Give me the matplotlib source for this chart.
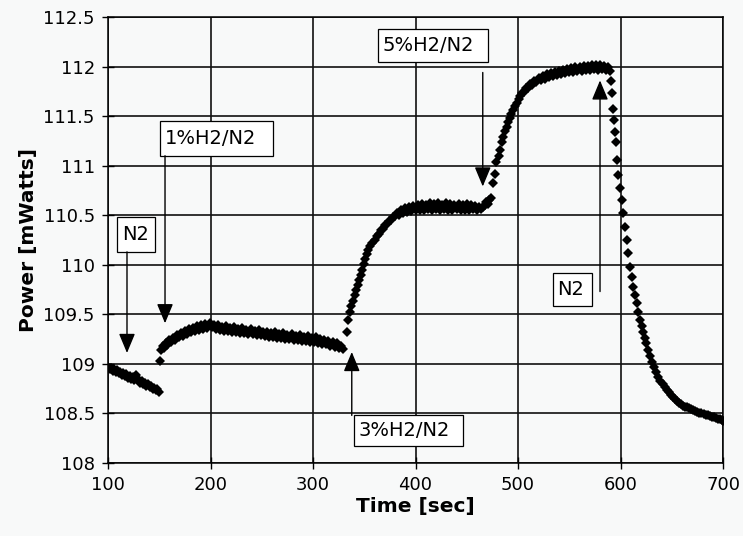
import numpy as np
import matplotlib
matplotlib.use('Agg')
import matplotlib.pyplot as plt
from matplotlib.patches import Rectangle
from matplotlib.ticker import FuncFormatter

# N2 baseline
t_n2 = [100, 101.5, 103, 104.5, 106, 107.5, 109, 110.5, 112, 113.5, 115, 116.5,
        118, 119.5, 121, 122.5, 124, 125.5, 127, 128.5, 130, 131.5, 133, 134.5,
        136, 137.5, 139, 140.5, 142, 143.5, 145, 146.5, 148, 149.5]
p_n2 = [108.97, 108.95, 108.96, 108.93, 108.95, 108.92, 108.94, 108.91, 108.92,
        108.89, 108.91, 108.88, 108.90, 108.86, 108.88, 108.85, 108.87, 108.84,
        108.89, 108.86, 108.83, 108.81, 108.83, 108.80, 108.81, 108.78, 108.80,
        108.77, 108.78, 108.75, 108.76, 108.74, 108.75, 108.72]

# 1% H2/N2
t_h1 = [151, 152, 153.5, 155, 156.5, 158, 159.5, 161, 163, 165, 167, 169, 171,
        173, 175, 177, 179, 181, 183, 185, 187, 189, 191, 193, 195, 197, 199,
        201, 203, 205, 207, 209, 211, 213, 215, 217, 219, 221, 223, 225, 227,
        229, 231, 233, 235, 237, 239, 241, 243, 245, 247, 249, 251, 253, 255,
        257, 259, 261, 263, 265, 267, 269, 271, 273, 275, 277, 279, 281, 283,
        285, 287, 289, 291, 293, 295, 297, 299, 301, 303, 305, 307, 309, 311,
        313, 315, 317, 319, 321, 323, 325, 327, 329]
p_h1 = [109.03, 109.14, 109.18, 109.16, 109.21, 109.19, 109.24, 109.22, 109.26,
        109.24, 109.29, 109.27, 109.31, 109.28, 109.33, 109.30, 109.35, 109.32,
        109.36, 109.33, 109.38, 109.34, 109.39, 109.35, 109.40, 109.36, 109.41,
        109.37, 109.39, 109.35, 109.39, 109.34, 109.37, 109.33, 109.38, 109.33,
        109.36, 109.32, 109.37, 109.32, 109.35, 109.31, 109.36, 109.31, 109.34,
        109.30, 109.35, 109.30, 109.33, 109.29, 109.34, 109.29, 109.32, 109.28,
        109.32, 109.27, 109.31, 109.27, 109.32, 109.26, 109.30, 109.26, 109.31,
        109.25, 109.29, 109.25, 109.30, 109.24, 109.28, 109.24, 109.29, 109.23,
        109.27, 109.23, 109.28, 109.22, 109.26, 109.22, 109.27, 109.21, 109.25,
        109.20, 109.24, 109.20, 109.23, 109.18, 109.22, 109.17, 109.21, 109.16,
        109.18, 109.15]

# 3% H2/N2
t_h3 = [333, 334, 336, 337.5, 339, 340.5, 342, 343.5, 345, 346.5, 348, 349.5,
        351, 352.5, 354, 356, 358, 360, 362, 364, 366, 368, 370, 372, 374, 376,
        378, 380, 382, 384, 386, 388, 390, 392, 394, 396, 398, 400, 402, 404,
        406, 408, 410, 412, 414, 416, 418, 420, 422, 424, 426, 428, 430, 432,
        434, 436, 438, 440, 442, 444, 446, 448, 450, 452, 454, 456, 458, 460,
        462, 464, 466]
p_h3 = [109.32, 109.44, 109.52, 109.58, 109.63, 109.69, 109.75, 109.80, 109.85,
        109.90, 109.95, 110.01, 110.06, 110.11, 110.15, 110.19, 110.22, 110.25,
        110.29, 110.31, 110.35, 110.36, 110.40, 110.41, 110.44, 110.45, 110.48,
        110.49, 110.52, 110.50, 110.55, 110.52, 110.57, 110.53, 110.58, 110.54,
        110.59, 110.55, 110.60, 110.55, 110.61, 110.55, 110.60, 110.56, 110.62,
        110.55, 110.61, 110.56, 110.62, 110.55, 110.60, 110.56, 110.62, 110.55,
        110.61, 110.55, 110.60, 110.56, 110.61, 110.55, 110.60, 110.55, 110.61,
        110.55, 110.60, 110.56, 110.59, 110.55, 110.58, 110.56, 110.58]

# 5% H2/N2
t_h5 = [467.5, 469, 470.5, 472, 474, 475.6, 477.6, 479, 481, 482.4, 484, 485.5,
        487.3, 489, 490.5, 492, 493.5, 495, 497, 498.7, 500.5, 502, 504, 506,
        508, 510, 512, 514, 516, 518, 520, 522, 524, 526, 528, 530, 532, 534,
        536, 538, 540, 542, 544, 546, 548, 550, 552, 554, 556, 558, 560, 562,
        564, 566, 568, 570, 572, 574, 576, 578, 580, 582, 584, 586, 588, 589.5]
p_h5 = [110.60, 110.63, 110.61, 110.65, 110.67, 110.82, 110.92, 111.04, 111.10,
        111.16, 111.24, 111.29, 111.35, 111.39, 111.44, 111.48, 111.52, 111.56,
        111.60, 111.63, 111.67, 111.70, 111.73, 111.74, 111.78, 111.78, 111.82,
        111.81, 111.85, 111.84, 111.88, 111.86, 111.90, 111.87, 111.92, 111.89,
        111.93, 111.90, 111.95, 111.91, 111.96, 111.92, 111.97, 111.93, 111.98,
        111.94, 111.99, 111.95, 112.00, 111.96, 112.00, 111.96, 112.01, 111.97,
        112.01, 111.97, 112.02, 111.98, 112.02, 111.97, 112.02, 111.98, 112.01,
        111.97, 112.00, 111.96]

# back to N2
t_n2b = [590.5, 591.5, 592.5, 593.5, 594.5, 596, 597, 598, 599.5, 601, 602.7,
         604.4, 606, 607.6, 609.3, 611, 612.5, 614, 615.8, 617.5, 619, 620.5,
         622, 623.5, 625, 627, 629, 631, 633, 635, 637, 639, 641, 643, 645,
         647, 649, 651, 653, 655, 657, 659, 661, 663, 665, 667, 669, 671, 673,
         675, 677, 679, 681, 683, 685, 687, 689, 691, 693, 695, 697, 699, 700]
p_n2b = [111.85, 111.73, 111.57, 111.46, 111.34, 111.24, 111.06, 110.91, 110.77,
         110.65, 110.52, 110.38, 110.25, 110.12, 109.98, 109.88, 109.78, 109.69,
         109.61, 109.52, 109.44, 109.38, 109.32, 109.26, 109.21, 109.14, 109.08,
         109.02, 108.97, 108.92, 108.87, 108.83, 108.80, 108.77, 108.74, 108.72,
         108.69, 108.67, 108.65, 108.63, 108.61, 108.60, 108.58, 108.57, 108.56,
         108.55, 108.54, 108.53, 108.52, 108.51, 108.50, 108.50, 108.49, 108.48,
         108.48, 108.47, 108.46, 108.46, 108.45, 108.44, 108.44, 108.43, 108.42]

time = np.concatenate([t_n2, t_h1, t_h3, t_h5, t_n2b])
power = np.concatenate([p_n2, p_h1, p_h3, p_h5, p_n2b])

# label text, box (t0, t1, p0, p1), arrow (t, p_from, p_to)
notes = [
    ('N2', (108.8, 145.9, 110.13, 110.48), (118.5, 110.13, 109.11)),
    ('1%H2/N2', (150.7, 260.7, 111.10, 111.45), (155.6, 111.10, 109.41)),
    ('3%H2/N2', (340.0, 446.3, 108.17, 108.48), (337.8, 108.48, 109.12)),
    ('5%H2/N2', (363.4, 470.4, 112.05, 112.38), (465.6, 111.94, 110.79)),
    ('N2', (534.1, 571.9, 109.58, 109.92), (580.0, 109.73, 111.86)),
]

bg = '#f8f9f9'
fig = plt.figure(figsize=(7.43, 5.36), dpi=100, facecolor=bg)
ax = fig.add_axes([0.1454, 0.1362, 0.8277, 0.8321], facecolor=bg)

ax.plot(time, power, linestyle='none', marker='D', markersize=5,
        color='black', markeredgewidth=0, zorder=3)

ax.set_xlim(100, 700)
ax.set_ylim(108, 112.5)
ax.set_xticks(np.arange(100, 701, 100))
ax.set_yticks(np.arange(108, 112.51, 0.5))
ax.yaxis.set_major_formatter(FuncFormatter(lambda v, pos: '{:g}'.format(v)))
ax.grid(True, color='#111111', linewidth=1.2)
ax.set_axisbelow(True)
ax.tick_params(direction='inout', length=9, width=1, labelsize=13, pad=5)
for s in ax.spines.values():
    s.set_linewidth(1.1)

ax.set_xlabel('Time [sec]', fontsize=14.5, fontweight='bold', labelpad=2)
ax.set_ylabel('Power [mWatts]', fontsize=14.5, fontweight='bold', labelpad=4)

for text, (x0, x1, y0, y1), (xa, ya0, ya1) in notes:
    ax.add_patch(Rectangle((x0, y0), x1 - x0, y1 - y0, facecolor='white',
                           edgecolor='black', linewidth=0.9, zorder=4))
    ax.text(x0 + 4.5, (y0 + y1) / 2, text, fontsize=14, ha='left',
            va='center', zorder=5)
    ax.annotate('', xy=(xa, ya1), xytext=(xa, ya0),
                arrowprops=dict(arrowstyle='-|>,head_length=0.6,head_width=0.25',
                                mutation_scale=20, color='black', lw=1,
                                shrinkA=0, shrinkB=0), zorder=5)

fig.savefig('out.png', dpi=100, facecolor=bg)
